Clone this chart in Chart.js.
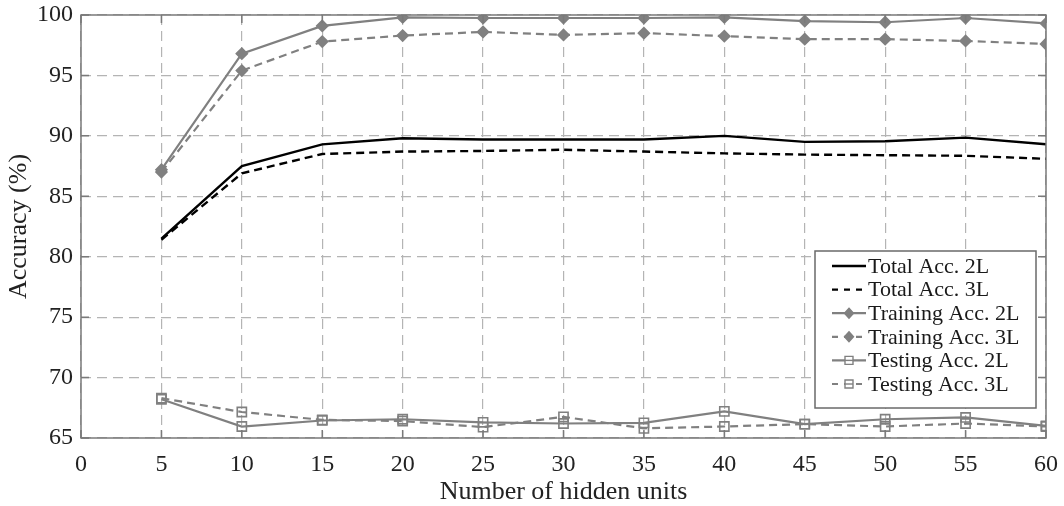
<!DOCTYPE html>
<html>
<head>
<meta charset="utf-8">
<script src="https://cdn.jsdelivr.net/npm/chart.js@4"></script>
<style>
  html, body { margin: 0; padding: 0; background: #fff; }
  #wrap { width: 1064px; height: 506px; }
</style>
</head>
<body>
<div id="wrap"><canvas id="accChart" width="1064" height="506"></canvas></div>
<script>
  // hidden units on the x axis
  var hiddenUnits = [5, 10, 15, 20, 25, 30, 35, 40, 45, 50, 55, 60];

  var totalAcc2L    = [81.5, 87.5, 89.3, 89.8, 89.7, 89.7, 89.7, 90.0, 89.5, 89.55, 89.85, 89.3];
  var totalAcc3L    = [81.4, 86.9, 88.5, 88.7, 88.75, 88.85, 88.7, 88.55, 88.45, 88.4, 88.35, 88.1];
  var trainingAcc2L = [87.2, 96.8, 99.1, 99.8, 99.75, 99.75, 99.75, 99.8, 99.5, 99.4, 99.75, 99.3];
  var trainingAcc3L = [87.0, 95.4, 97.8, 98.3, 98.6, 98.35, 98.5, 98.25, 98.0, 98.0, 97.85, 97.6];
  var testingAcc2L  = [68.2, 65.95, 66.45, 66.55, 66.3, 66.2, 66.25, 67.2, 66.15, 66.55, 66.7, 66.0];
  var testingAcc3L  = [68.3, 67.15, 66.5, 66.4, 65.9, 66.75, 65.8, 65.95, 66.15, 65.95, 66.2, 65.95];

  var xTicks = [0, 5, 10, 15, 20, 25, 30, 35, 40, 45, 50, 55, 60];
  var yTicks = [65, 70, 75, 80, 85, 90, 95, 100];

  const GRAY = '#808080';
  const FONT = "'Liberation Serif', 'Times New Roman', serif";

  function pts(arr) {
    return arr.map((v, i) => ({ x: hiddenUnits[i], y: v }));
  }

  var series = [
    { label: 'Total Acc. 2L',    data: totalAcc2L,    color: '#000', dash: [],     marker: false,     width: 2.4 },
    { label: 'Total Acc. 3L',    data: totalAcc3L,    color: '#000', dash: [8, 5], marker: false,     width: 2.4 },
    { label: 'Training Acc. 2L', data: trainingAcc2L, color: GRAY,   dash: [],     marker: 'rectRot', width: 2.2 },
    { label: 'Training Acc. 3L', data: trainingAcc3L, color: GRAY,   dash: [8, 5], marker: 'rectRot', width: 2.2 },
    { label: 'Testing Acc. 2L',  data: testingAcc2L,  color: GRAY,   dash: [],     marker: 'rect',    width: 2.2 },
    { label: 'Testing Acc. 3L',  data: testingAcc3L,  color: GRAY,   dash: [8, 5], marker: 'rect',    width: 2.2 }
  ];

  var datasets = series.map(s => ({
    label: s.label,
    data: pts(s.data),
    borderColor: s.color,
    borderWidth: s.width,
    borderDash: s.dash,
    tension: 0,
    fill: false,
    pointStyle: s.marker || 'circle',
    pointRadius: s.marker ? (s.marker == 'rect' ? 6.5 : 5.5) : 0,
    pointBorderColor: s.color,
    pointBorderWidth: 1.6,
    pointBackgroundColor: s.marker == 'rectRot' ? s.color : 'rgba(0,0,0,0)'
  }));

  // box around the plot + small inward tick marks, like a matlab axes
  var boxPlugin = {
    id: 'boxPlugin',
    afterDatasetsDraw(chart) {
      const c = chart.ctx, a = chart.chartArea;
      const xs = chart.scales.x, ys = chart.scales.y;
      c.save();
      c.strokeStyle = '#7a7a7a';
      c.lineWidth = 1.5;
      c.setLineDash([]);
      c.beginPath();
      xTicks.forEach(v => {
        const px = xs.getPixelForValue(v);
        c.moveTo(px, a.bottom); c.lineTo(px, a.bottom - 8);
        c.moveTo(px, a.top); c.lineTo(px, a.top + 8);
      });
      yTicks.forEach(v => {
        const py = ys.getPixelForValue(v);
        c.moveTo(a.left, py); c.lineTo(a.left + 8, py);
        c.moveTo(a.right, py); c.lineTo(a.right - 8, py);
      });
      c.stroke();
      c.strokeRect(a.left, a.top, a.right - a.left, a.bottom - a.top);
      c.restore();
    },
    afterDraw(chart) {
      // legend box in the lower right corner
      const c = chart.ctx, a = chart.chartArea;
      const bw = 221, bh = 157;
      const bx = a.right - 10 - bw, by = a.bottom - 30 - bh;
      c.save();
      c.fillStyle = '#fff';
      c.fillRect(bx, by, bw, bh);
      c.strokeStyle = '#6a6a6a';
      c.lineWidth = 1.5;
      c.strokeRect(bx, by, bw, bh);
      c.font = '22px ' + FONT;
      c.textBaseline = 'middle';
      c.textAlign = 'left';
      series.forEach((s, i) => {
        const y = by + 15 + i * 23.6;
        const x1 = bx + 17, x2 = bx + 51;
        c.strokeStyle = s.color;
        c.lineWidth = s.width;
        c.setLineDash(s.dash.length ? [6, 6] : []);
        c.beginPath(); c.moveTo(x1, y); c.lineTo(x2, y); c.stroke();
        c.setLineDash([]);
        if (s.marker) {
          const mx = (x1 + x2) / 2;
          c.lineWidth = 1.4;
          c.beginPath();
          if (s.marker == 'rectRot') {
            c.moveTo(mx, y - 5); c.lineTo(mx + 4.5, y); c.lineTo(mx, y + 5); c.lineTo(mx - 4.5, y); c.closePath();
            c.fillStyle = s.color; c.fill(); c.stroke();
          } else {
            c.fillStyle = '#fff';
            c.rect(mx - 4, y - 4, 8, 8); c.fill(); c.stroke();
            c.beginPath(); c.moveTo(mx - 4, y); c.lineTo(mx + 4, y); c.stroke();
          }
        }
        c.fillStyle = '#1a1a1a';
        c.fillText(s.label, x2 + 2, y + 1);
      });
      c.restore();
    }
  };

  new Chart(document.getElementById('accChart'), {
    type: 'line',
    data: { datasets: datasets },
    plugins: [boxPlugin],
    options: {
      responsive: false,
      animation: false,
      layout: { padding: { top: 15, right: 18, left: 0, bottom: 0 } },
      plugins: { legend: { display: false }, tooltip: { enabled: false } },
      scales: {
        x: {
          type: 'linear',
          min: 0, max: 60,
          afterFit(scale) {
            scale.height = 68;
            scale.paddingLeft = 0;
            scale.paddingRight = 0;
          },
          afterBuildTicks(scale) { scale.ticks = xTicks.map(v => ({ value: v })); },
          grid: { color: '#b4b4b4', lineWidth: 1.2, drawTicks: false },
          border: { display: false, dash: [10, 6] },
          ticks: { padding: 12, color: '#222', font: { family: FONT, size: 24 } },
          title: { display: true, text: 'Number of hidden units', color: '#222', padding: { top: 0, bottom: -2 }, font: { family: FONT, size: 26 } }
        },
        y: {
          min: 65, max: 100,
          afterFit(scale) {
            scale.width = 81;
            scale.paddingTop = 0;
            scale.paddingBottom = 0;
          },
          afterBuildTicks(scale) { scale.ticks = yTicks.map(v => ({ value: v })); },
          grid: { color: '#b4b4b4', lineWidth: 1.2, drawTicks: false },
          border: { display: false, dash: [10, 6] },
          ticks: { padding: 8, color: '#222', font: { family: FONT, size: 24 } },
          title: { display: true, text: 'Accuracy (%)', color: '#222', padding: { top: 4, bottom: 0 }, font: { family: FONT, size: 26 } }
        }
      }
    }
  });
</script>
</body>
</html>
